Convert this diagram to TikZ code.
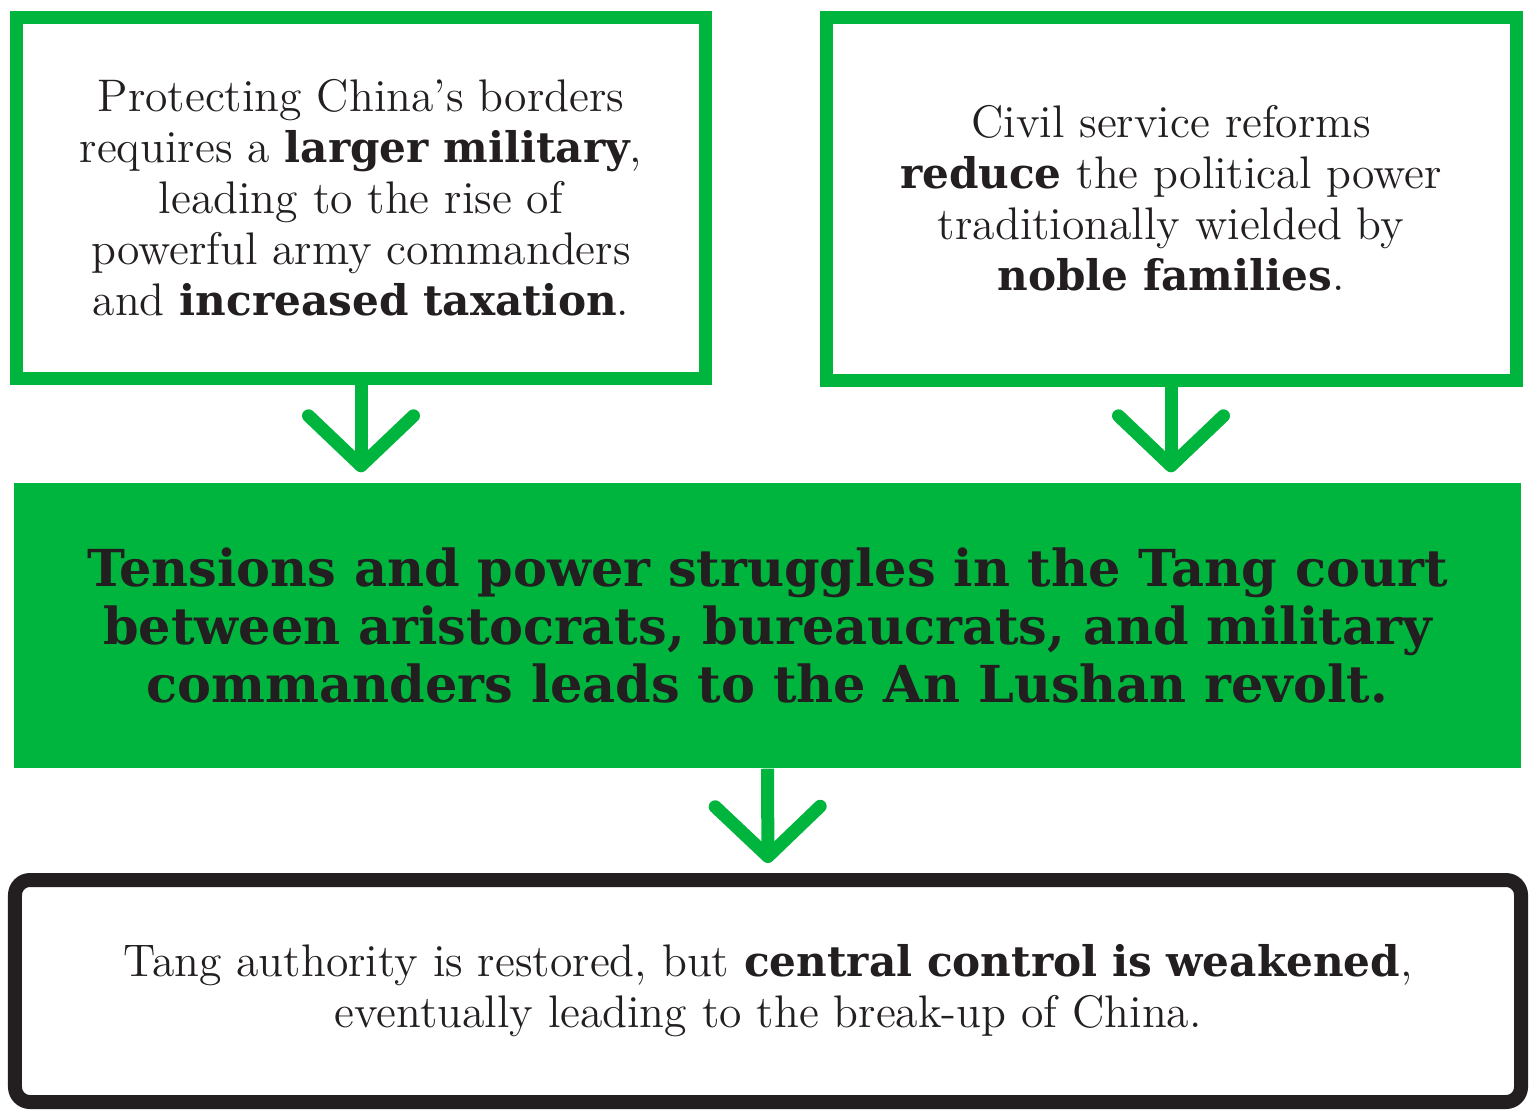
\documentclass[tikz,border=0pt]{standalone}
\usepackage{fontspec}
\newfontfamily\heavyfont[BoldFont={DejaVu Serif Bold}]{DejaVu Serif}
\usetikzlibrary{arrows.meta,calc}
\definecolor{tanggreen}{RGB}{0,181,62}
\definecolor{inkblack}{RGB}{35,31,32}
\newcommand{\hv}[1]{{\fontsize{12}{14.5}\heavyfont\bfseries #1}}

\begin{document}
\begin{tikzpicture}[
    box/.style={draw=tanggreen,line width=0.13cm,inner sep=0pt,align=center,text=inkblack,
      font=\fontsize{13}{14.5}\selectfont},
    flow/.style={draw=tanggreen,line width=0.13cm,shorten >=0.1cm,
      -{Straight Barb[length=0.5cm,width=1.05cm,round]}}]
    \useasboundingbox (0,0) rectangle (15.36,-11.19);
        % the two causes
        \node[box,minimum width=6.89cm,minimum height=3.61cm] (a) at (3.61,-1.98)
          {Protecting China’s borders\\requires a \hv{larger military},\\leading to the rise of\\powerful army commanders\\and \hv{increased taxation}.};
        \node[box,minimum width=6.9cm,minimum height=3.63cm] (b) at (11.71,-1.985)
          {Civil service reforms\\\hv{reduce} the political power\\traditionally wielded by\\\hv{noble families}.};
        % the court
        \node[fill=tanggreen,inner sep=0pt,minimum width=15.07cm,minimum height=2.85cm,align=center,text=inkblack,
          font=\fontsize{14.5}{16.5}\heavyfont\bfseries] (m) at (7.675,-6.255)
          {Tensions and power struggles in the Tang court\\between aristocrats, bureaucrats, and military\\commanders leads to the An Lushan revolt.};
        % the outcome
        \node[box,draw=inkblack,line width=0.14cm,rounded corners=0.15cm,minimum width=15.06cm,minimum height=2.22cm] (c) at (7.68,-9.91)
          {Tang authority is restored, but \hv{central control is weakened},\\eventually leading to the break-up of China.};
        \foreach \n in {a,b}{
          \draw[flow] (\n.south) -- (\n.south |- m.north);
          }
        \draw[flow] (m.south) -- (c.north);
    \end{tikzpicture}
\end{document}
